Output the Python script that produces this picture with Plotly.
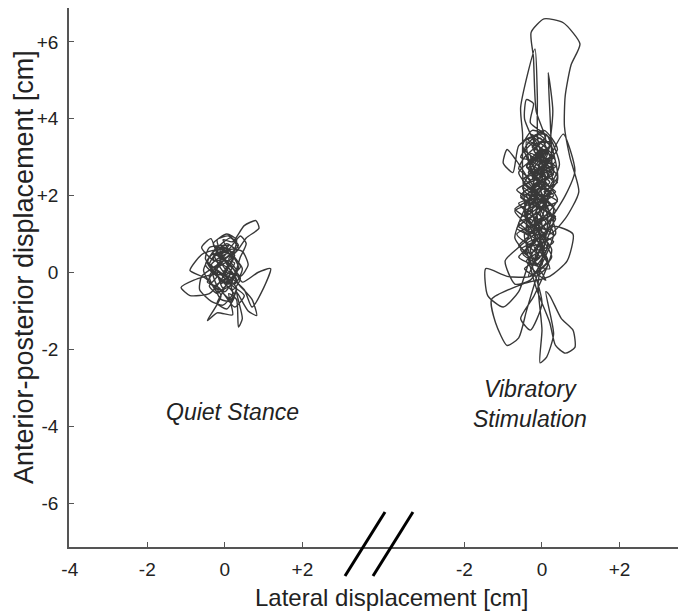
import plotly.graph_objects as go

# ---------------- data (cm) ----------------
qs_pts = [
    (0.00, 0.00), (0.25, 0.45), (-0.15, 0.70), (-0.45, 0.25), (0.10, -0.30), (0.35, 0.15),
    (-0.05, 0.85), (0.20, 0.80), (0.50, 1.22), (0.80, 1.35), (0.88, 1.15), (0.55, 0.90),
    (0.30, 0.55), (-0.25, 0.30), (-0.60, 0.65), (-0.36, 0.88), (-0.20, 0.50), (0.15, 0.20),
    (0.45, -0.25), (0.85, 0.00), (1.18, 0.10), (1.00, -0.40), (0.70, -0.90), (0.50, -0.45),
    (0.10, -0.10), (-0.30, -0.05), (-0.80, -0.20), (-1.13, -0.39), (-0.90, -0.60), (-0.40, -0.55),
    (-0.10, -0.20), (0.20, 0.40), (-0.10, 0.60), (-0.55, 0.50), (-0.75, 0.30), (-0.90, 0.05),
    (-0.50, -0.15), (-0.10, -0.60), (-0.45, -1.25), (-0.20, -1.05), (0.20, -1.10), (0.10, -0.55),
    (0.30, -0.70), (0.35, -1.42), (0.45, -1.20), (0.30, -0.50), (0.60, -1.00), (0.82, -1.12),
    (0.70, -0.70), (0.35, -0.30), (0.00, 0.30), (-0.30, 0.75), (0.05, 1.00), (0.30, 0.85),
    (0.15, 0.35), (-0.20, 0.10), (-0.05, -0.40), (0.25, -0.05), (0.40, 0.40), (0.55, 0.75),
    (0.40, 0.95), (0.05, 0.55), (-0.35, 0.45), (-0.55, 0.05), (-0.30, -0.35), (0.05, -0.15),
    (0.20, -0.55), (-0.05, -0.85), (-0.35, -0.75), (-0.65, -0.45), (-0.60, -0.10), (-0.20, 0.20),
    (0.15, 0.60), (0.45, 0.55), (0.60, 0.20), (0.40, -0.10), (0.00, 0.10), (-0.15, 0.45),
    (0.10, 0.70), (-0.40, 0.65), (-0.50, 0.35), (-0.10, -0.05), (0.20, -0.35), (0.50, -0.60),
    (0.25, -0.90), (-0.15, -0.40), (-0.45, -0.25), (-0.25, 0.05), (0.10, 0.45), (0.35, 0.70),
    (0.10, 0.95), (-0.20, 0.85), (-0.05, 0.40), (0.15, 0.00), (-0.10, -0.30), (0.05, 0.15),
    (0.30, -0.20), (-0.20, -0.50), (-0.40, -0.10), (0.00, 0.35), (0.35, 0.60), (0.15, 0.90),
    (-0.25, 0.60), (-0.50, 0.20), (-0.15, -0.15), (0.20, -0.45), (0.40, -0.15), (0.05, 0.25),
    (-0.30, 0.50), (-0.10, 0.10), (0.25, -0.30), (0.45, 0.10), (0.10, 0.50), (-0.35, 0.20),
    (-0.20, -0.35), (0.15, -0.70), (0.30, -0.40), (-0.05, -0.05), (-0.45, 0.30), (-0.15, 0.65),
    (0.20, 0.40), (0.00, 0.00),
    (0.10, 0.25), (-0.15, 0.40), (0.05, 0.60), (-0.25, 0.65), (-0.05, 0.35), (0.25, 0.25),
    (0.05, -0.05), (-0.25, 0.05), (-0.05, -0.25), (0.20, -0.20), (0.00, -0.50), (-0.25, -0.40),
    (-0.10, -0.70), (0.15, -0.75), (0.30, -0.45), (0.10, -0.25), (0.30, 0.05), (0.10, 0.35),
    (0.30, 0.55), (0.05, 0.75), (-0.20, 0.55), (-0.40, 0.20), (-0.20, -0.10), (-0.40, -0.35),
    (-0.20, -0.55), (0.05, -0.35), (0.25, -0.60), (0.05, -0.95), (-0.20, -0.80), (-0.05, -0.50),
    (0.15, 0.05), (-0.05, 0.20), (-0.30, 0.35), (-0.10, 0.55), (0.20, 0.45), (0.40, 0.15),
    (0.20, -0.05), (-0.05, 0.05),
]
qs_x = [p[0] for p in qs_pts]
qs_y = [p[1] for p in qs_pts]

vs_pts = [
    (-0.20, 1.50), (0.10, 2.20), (-0.40, 2.80), (0.20, 3.30), (-0.30, 3.60), (0.30, 3.00),
    (-0.50, 2.40), (0.20, 1.80), (-0.60, 1.20), (0.30, 0.80), (-0.40, 0.30), (0.10, -0.20),
    (-0.30, 0.60), (0.35, 1.40), (-0.55, 2.00), (0.25, 2.60), (-0.45, 3.20), (0.05, 3.70),
    (0.40, 3.20), (-0.20, 2.50), (0.30, 2.00), (-0.70, 1.60), (-0.10, 0.90), (-0.60, 0.40),
    (0.20, 0.10), (-0.20, 1.10), (0.40, 1.90), (-0.30, 2.90), (0.10, 3.40),
    (-0.15, 4.20), (-0.22, 5.60), (-0.28, 6.25), (0.05, 6.60), (0.55, 6.50), (0.98, 5.95),
    (0.75, 5.40), (0.60, 4.60), (0.58, 3.80), (0.72, 3.00), (0.95, 2.10), (0.60, 1.40),
    (0.20, 1.00), (-0.35, 1.30), (-0.50, 2.60), (-0.50, 3.60), (-0.55, 4.30), (-0.18, 5.82),
    (-0.12, 4.60), (-0.10, 3.40), (0.25, 2.40), (0.22, 3.80), (0.16, 5.20), (0.28, 4.20),
    (0.15, 3.10), (-0.25, 2.20), (0.35, 1.60), (-0.45, 1.00), (-0.15, 0.20), (0.15, 0.70),
    (-0.35, 1.80), (0.05, 2.70), (-0.45, 4.00), (-0.40, 4.50), (-0.22, 4.40), (-0.30, 3.90),
    (0.20, 3.50), (0.45, 2.80), (0.00, 2.00), (-0.65, 2.90), (-0.90, 3.20), (-1.00, 2.85),
    (-0.75, 2.60), (-0.60, 3.30), (-0.25, 3.50), (0.30, 2.30), (-0.20, 1.30), (0.25, 0.40),
    (-0.30, -0.10), (-0.90, -0.10), (-1.45, 0.10), (-1.40, -0.60), (-1.00, -0.90), (-0.60, -0.50),
    (-0.25, 0.50), (0.30, 1.20), (0.80, 1.00), (0.65, 0.30), (0.20, -0.10), (-0.50, -0.30),
    (-1.30, -0.70), (-1.20, -1.30), (-0.90, -1.90), (-0.60, -1.70), (-0.40, -1.00), (-0.10, 0.00),
    (0.30, 1.00), (-0.10, 1.80), (0.40, 2.50), (-0.30, 3.10), (0.15, 1.40), (-0.10, -0.30),
    (0.00, -1.50), (-0.05, -2.35), (0.12, -2.20), (0.30, -1.60), (0.10, -0.50), (0.20, -0.60),
    (0.50, -1.20), (0.80, -1.50), (0.85, -1.95), (0.60, -2.10), (0.35, -1.90), (0.20, -1.30),
    (-0.15, -0.40), (-0.40, 0.80), (0.05, 1.60), (-0.50, 2.20), (0.35, 2.90), (-0.15, 3.30),
    (0.10, 2.40), (-0.40, 1.50), (0.25, 0.60), (-0.20, -0.60), (-0.55, -1.20), (-0.30, -1.50),
    (0.00, -0.80), (-0.35, 0.40), (-0.70, 0.90), (-0.25, 2.10), (0.20, 3.00), (0.55, 3.60),
    (0.85, 2.65), (0.60, 2.00), (0.15, 1.30), (-0.55, 0.70), (-0.95, 0.30), (-0.70, -0.30),
    (-0.30, -0.20), (0.05, 0.50), (-0.25, 1.60), (0.10, 2.90), (-0.40, 3.40), (0.00, 1.20),
    (-0.20, 0.30), (0.30, 1.70), (-0.45, 2.30), (0.15, 3.20), (-0.35, 2.60), (0.35, 2.10),
    (-0.60, 1.80), (0.10, 1.10), (-0.50, 0.50), (0.00, 0.20), (-0.15, 1.90), (0.25, 2.80),
    (-0.55, 3.00), (-0.05, 3.50), (0.30, 2.60), (-0.40, 2.00), (0.20, 1.50), (-0.65, 1.00),
    (-0.25, 0.70), (0.35, 1.00), (-0.10, 2.30), (-0.50, 3.40), (0.10, 3.60), (0.40, 2.40),
    (-0.20, 1.70), (-0.55, 1.40), (0.05, 0.90), (-0.35, -0.10), (0.15, 0.30), (-0.30, 1.20),
    (0.20, 2.00), (-0.35, 2.70), (0.00, 3.10), (-0.60, 2.60), (0.30, 1.40), (-0.10, 0.50),
    (-0.45, 1.70), (0.15, 2.50), (-0.25, 3.30), (0.25, 3.40), (-0.15, 2.60), (-0.40, 1.10),
    (-0.30, 1.00), (-0.05, 1.25), (-0.40, 1.45), (-0.10, 1.70), (-0.55, 1.95), (-0.20, 2.15),
    (-0.45, 2.45), (0.05, 2.65), (-0.30, 2.95), (0.00, 3.20), (-0.35, 3.45), (-0.10, 3.60),
    (0.20, 3.30), (-0.15, 3.05), (0.15, 2.80), (-0.25, 2.55), (0.10, 2.30), (-0.35, 2.05),
    (0.05, 1.85), (-0.45, 1.60), (-0.05, 1.35), (-0.50, 1.10), (-0.15, 0.85), (-0.55, 0.60),
    (-0.20, 0.35), (0.10, 0.55), (-0.25, 0.80), (0.15, 1.05), (-0.20, 1.30), (0.20, 1.55),
    (-0.30, 1.80), (0.25, 2.05), (-0.20, 2.30), (0.30, 2.55), (-0.10, 2.80), (0.25, 3.05),
    (-0.25, 3.25), (0.05, 3.45), (-0.45, 3.00), (-0.60, 2.70), (-0.30, 2.40), (-0.65, 2.15),
    (-0.35, 1.90), (-0.70, 1.65), (-0.40, 1.40), (-0.65, 1.15), (-0.35, 0.95), (-0.60, 0.70),
    (-0.30, 0.50), (0.00, 0.75), (0.30, 0.95), (0.05, 1.20), (0.35, 1.45), (0.00, 1.65),
    (0.40, 1.85), (0.05, 2.10), (0.40, 2.35), (0.00, 2.55), (0.35, 2.75), (-0.05, 3.00),
    (-0.40, 2.75), (-0.10, 2.45), (-0.50, 2.25), (-0.15, 1.95), (-0.55, 1.75), (-0.20, 1.50),
    (-0.60, 1.30), (-0.25, 1.05), (0.10, 1.30), (-0.15, 1.60), (0.15, 1.85), (-0.10, 2.05),
    (0.20, 2.35), (-0.05, 2.60), (0.20, 2.90), (-0.20, 3.15), (0.10, 3.55), (-0.25, 3.70),
    (-0.50, 3.30), (-0.30, 2.85), (0.10, 2.50), (-0.30, 2.10), (0.10, 1.75), (-0.35, 1.35),
    (0.05, 1.00), (-0.40, 0.75), (-0.05, 0.40), (-0.45, 0.10), (-0.15, -0.10), (0.15, 0.20),
    (-0.10, 0.60),
]
vs_x = [p[0] for p in vs_pts]
vs_y = [p[1] for p in vs_pts]

y_ticks = [6, 4, 2, 0, -2, -4, -6]
y_labels = ["+6", "+4", "+2", "0", "-2", "-4", "-6"]
x1_ticks = [-4, -2, 0, 2]
x1_labels = ["-4", "-2", "0", "+2"]
x2_ticks = [-2, 0, 2]
x2_labels = ["-2", "0", "+2"]

# ---------------- figure ----------------
LINE = dict(color="#383838", width=1.4, shape="spline", smoothing=0.6)
fig = go.Figure()
fig.add_trace(go.Scatter(x=qs_x, y=qs_y, mode="lines", line=LINE, xaxis="x", yaxis="y",
                         showlegend=False, hoverinfo="skip"))
fig.add_trace(go.Scatter(x=vs_x, y=vs_y, mode="lines", line=LINE, xaxis="x2", yaxis="y",
                         showlegend=False, hoverinfo="skip"))

tickfont = dict(family="Liberation Sans, Arial, sans-serif", size=19, color="#222")
axis_common = dict(showgrid=False, zeroline=False, showline=True, linecolor="#555", linewidth=1.5,
                   ticks="inside", ticklen=5, tickcolor="#555", tickwidth=1.2, tickfont=tickfont)

BREAK = 0.504
fig.update_layout(
    width=678, height=605,
    margin=dict(l=61, r=0, t=0, b=66),
    paper_bgcolor="white", plot_bgcolor="white",
    xaxis=dict(domain=[0, BREAK], range=[-4.02, 4.0], tickvals=x1_ticks, ticktext=x1_labels,
               anchor="y", ticklabelstandoff=4, **axis_common),
    xaxis2=dict(domain=[BREAK, 1], range=[-4.18, 3.716], tickvals=x2_ticks, ticktext=x2_labels,
                anchor="y", ticklabelstandoff=4, **axis_common),
    yaxis=dict(range=[-7.145, 6.884], tickvals=y_ticks, ticktext=y_labels, anchor="x",
               ticklabelstandoff=5, **axis_common),
    font=dict(family="Liberation Sans, Arial, sans-serif", color="#222"),
)

# axis break marks
for x0, x1 in [(0.4473, 0.5122), (0.4927, 0.5575)]:
    fig.add_shape(type="line", xref="paper", yref="paper", x0=x0, y0=-0.0538, x1=x1, y1=0.0649,
                  line=dict(color="black", width=3))

fig.add_annotation(text="Lateral displacement [cm]", xref="paper", yref="paper", x=0.522, y=-0.0928,
                   xanchor="center", yanchor="middle", showarrow=False,
                   font=dict(family="Liberation Sans, Arial, sans-serif", size=24, color="#222"))
fig.add_annotation(text="Anterior-posterior displacement [cm]", xref="paper", yref="paper",
                   x=-0.0729, y=0.5195, xanchor="center", yanchor="middle", textangle=-90,
                   showarrow=False,
                   font=dict(family="Liberation Sans, Arial, sans-serif", size=27, color="#222"))

ann_font = dict(family="Liberation Sans, Arial, sans-serif", size=23, color="#222")
fig.add_annotation(text="<i>Quiet Stance</i>", xref="x", yref="y", x=0.2, y=-3.63,
                   showarrow=False, font=ann_font, xanchor="center", yanchor="middle")
fig.add_annotation(text="<i>Vibratory<br>Stimulation</i>", xref="x2", yref="y", x=-0.31, y=-3.42,
                   showarrow=False, font=ann_font, xanchor="center", yanchor="middle")

fig.write_html("out.html")
